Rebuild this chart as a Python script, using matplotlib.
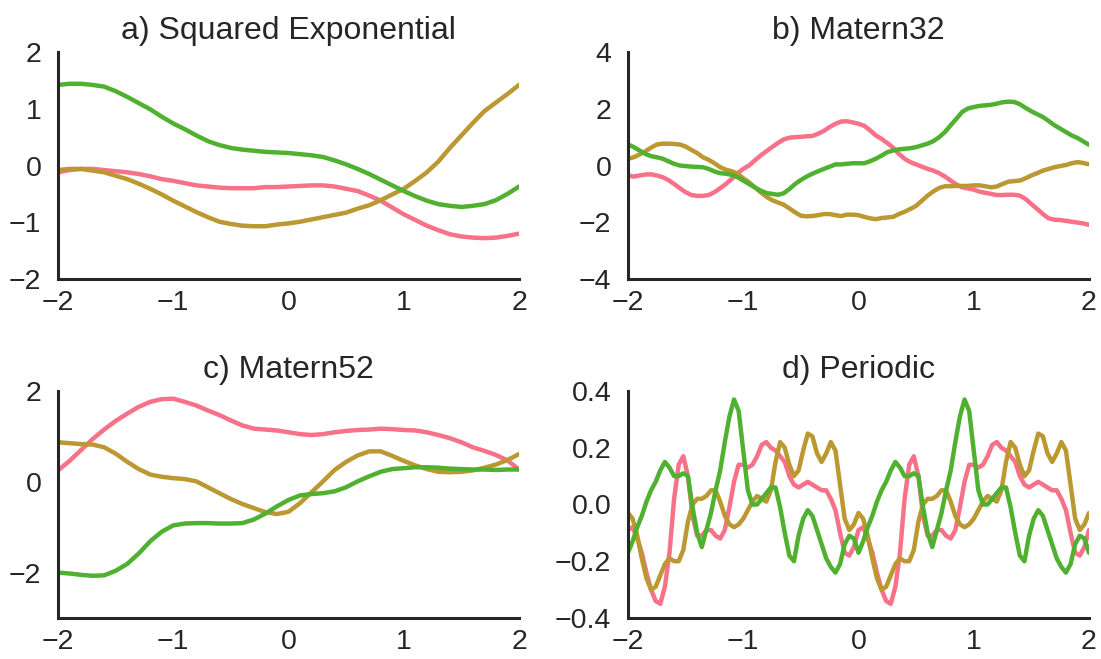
import numpy as np
import matplotlib
matplotlib.use('Agg')
import matplotlib.pyplot as plt
import seaborn as sns

sns.set_style('white')
plt.rcParams['font.family'] = ['Liberation Sans', 'DejaVu Sans']

# --- draws from each kernel (three samples per panel) ---

# a) squared exponential, sampled every 0.1
x_se = np.linspace(-2, 2, 41)
se_pink = [-0.12, -0.08, -0.06, -0.06, -0.08, -0.10, -0.12, -0.15, -0.19, -0.24,
           -0.27, -0.31, -0.35, -0.37, -0.39, -0.40, -0.40, -0.40, -0.38, -0.38,
           -0.37, -0.36, -0.35, -0.35, -0.37, -0.41, -0.45, -0.53, -0.62, -0.74,
           -0.86, -0.96, -1.06, -1.14, -1.21, -1.25, -1.27, -1.28, -1.27, -1.24,
           -1.20]
se_gold = [-0.08, -0.06, -0.06, -0.09, -0.12, -0.18, -0.24, -0.32, -0.41, -0.51,
           -0.62, -0.72, -0.82, -0.91, -0.99, -1.03, -1.06, -1.07, -1.07, -1.04,
           -1.02, -0.99, -0.95, -0.91, -0.87, -0.83, -0.76, -0.70, -0.61, -0.51,
           -0.41, -0.27, -0.12, 0.07, 0.31, 0.53, 0.75, 0.96, 1.11, 1.26,
           1.42]
se_green = [1.42, 1.44, 1.44, 1.42, 1.39, 1.31, 1.21, 1.10, 0.99, 0.86,
            0.74, 0.64, 0.53, 0.43, 0.36, 0.31, 0.28, 0.26, 0.24, 0.23,
            0.22, 0.20, 0.18, 0.15, 0.09, 0.02, -0.06, -0.15, -0.25, -0.35,
            -0.45, -0.54, -0.62, -0.68, -0.71, -0.73, -0.71, -0.68, -0.61, -0.50,
            -0.37]

# b) Matern 3/2, sampled every 0.05
x_m32 = np.linspace(-2, 2, 81)
m32_pink = [-0.35, -0.39, -0.35, -0.32, -0.31, -0.35, -0.41, -0.51, -0.65, -0.80,
            -0.94, -1.04, -1.07, -1.07, -1.04, -0.94, -0.80, -0.65, -0.47, -0.27,
            -0.12, 0.00, 0.18, 0.35, 0.50, 0.65, 0.79, 0.92, 0.98, 1.00,
            1.01, 1.03, 1.04, 1.12, 1.22, 1.36, 1.47, 1.55, 1.56, 1.52,
            1.47, 1.40, 1.24, 1.06, 0.94, 0.79, 0.63, 0.41, 0.24, 0.12,
            0.04, -0.04, -0.12, -0.18, -0.27, -0.39, -0.53, -0.67, -0.77, -0.81,
            -0.85, -0.92, -0.96, -1.00, -1.04, -1.04, -1.03, -1.03, -1.06, -1.18,
            -1.36, -1.53, -1.71, -1.86, -1.91, -1.92, -1.95, -1.98, -2.01, -2.04,
            -2.09]
m32_gold = [0.24, 0.29, 0.39, 0.50, 0.63, 0.74, 0.77, 0.77, 0.76, 0.74,
            0.67, 0.55, 0.44, 0.29, 0.20, 0.08, -0.06, -0.15, -0.20, -0.29,
            -0.45, -0.59, -0.77, -0.94, -1.10, -1.22, -1.30, -1.38, -1.51, -1.65,
            -1.77, -1.79, -1.78, -1.75, -1.71, -1.71, -1.75, -1.78, -1.73, -1.73,
            -1.75, -1.81, -1.86, -1.89, -1.85, -1.83, -1.81, -1.71, -1.63, -1.53,
            -1.42, -1.24, -1.06, -0.91, -0.79, -0.73, -0.73, -0.72, -0.72, -0.72,
            -0.70, -0.70, -0.73, -0.77, -0.74, -0.65, -0.57, -0.55, -0.53, -0.45,
            -0.35, -0.27, -0.18, -0.12, -0.06, -0.02, 0.02, 0.08, 0.12, 0.09,
            0.04]
m32_green = [0.74, 0.65, 0.53, 0.41, 0.33, 0.29, 0.24, 0.15, 0.06, 0.00,
             -0.02, -0.04, -0.05, -0.06, -0.12, -0.21, -0.27, -0.29, -0.33, -0.41,
             -0.53, -0.65, -0.77, -0.88, -0.97, -1.00, -1.03, -0.98, -0.83, -0.65,
             -0.51, -0.39, -0.29, -0.20, -0.12, -0.04, 0.04, 0.04, 0.06, 0.08,
             0.08, 0.08, 0.15, 0.24, 0.35, 0.47, 0.53, 0.57, 0.59, 0.61,
             0.65, 0.71, 0.77, 0.86, 1.00, 1.18, 1.42, 1.65, 1.89, 2.01,
             2.06, 2.10, 2.12, 2.14, 2.18, 2.23, 2.25, 2.24, 2.16, 2.03,
             1.91, 1.81, 1.71, 1.57, 1.42, 1.30, 1.18, 1.06, 0.97, 0.85,
             0.73]

# c) Matern 5/2, sampled every 0.1
x_m52 = np.linspace(-2, 2, 41)
m52_pink = [0.25, 0.46, 0.70, 0.94, 1.15, 1.34, 1.50, 1.65, 1.76, 1.82,
            1.83, 1.76, 1.68, 1.57, 1.47, 1.35, 1.24, 1.17, 1.15, 1.13,
            1.09, 1.05, 1.03, 1.05, 1.09, 1.12, 1.14, 1.15, 1.17, 1.16,
            1.14, 1.13, 1.09, 1.03, 0.96, 0.87, 0.76, 0.68, 0.59, 0.47,
            0.27]
m52_gold = [0.87, 0.85, 0.83, 0.82, 0.76, 0.62, 0.44, 0.28, 0.16, 0.11,
            0.08, 0.06, 0.01, -0.12, -0.25, -0.38, -0.49, -0.58, -0.67, -0.71,
            -0.66, -0.47, -0.23, 0.01, 0.26, 0.44, 0.58, 0.67, 0.67, 0.57,
            0.46, 0.36, 0.28, 0.22, 0.21, 0.22, 0.25, 0.31, 0.38, 0.48,
            0.61]
m52_green = [-2.00, -2.02, -2.05, -2.07, -2.06, -1.96, -1.81, -1.58, -1.31, -1.10,
             -0.96, -0.92, -0.91, -0.91, -0.92, -0.92, -0.91, -0.83, -0.70, -0.54,
             -0.40, -0.30, -0.27, -0.25, -0.21, -0.12, 0.01, 0.12, 0.22, 0.28,
             0.30, 0.32, 0.32, 0.31, 0.29, 0.28, 0.27, 0.27, 0.26, 0.27,
             0.27]

# d) periodic (period 2), sampled every 0.04
x_per = np.linspace(-2, 2, 101)
per_pink = [-0.09, -0.08, -0.12, -0.17, -0.24, -0.30, -0.34, -0.35, -0.29, -0.17,
            0.02, 0.14, 0.17, 0.10, -0.04, -0.11, -0.11, -0.09, -0.09, -0.11,
            -0.12, -0.09, -0.01, 0.08, 0.14, 0.14, 0.13, 0.14, 0.17, 0.21,
            0.22, 0.20, 0.19, 0.17, 0.15, 0.10, 0.07, 0.06, 0.07, 0.08,
            0.07, 0.06, 0.05, 0.05, 0.02, -0.02, -0.10, -0.17, -0.18, -0.15,
            -0.09, -0.08, -0.12, -0.17, -0.24, -0.30, -0.34, -0.35, -0.29, -0.17,
            0.02, 0.14, 0.17, 0.10, -0.04, -0.11, -0.11, -0.09, -0.09, -0.11,
            -0.12, -0.09, -0.01, 0.08, 0.14, 0.14, 0.13, 0.14, 0.17, 0.21,
            0.22, 0.20, 0.19, 0.17, 0.15, 0.10, 0.07, 0.06, 0.07, 0.08,
            0.07, 0.06, 0.05, 0.05, 0.02, -0.02, -0.10, -0.17, -0.18, -0.15,
            -0.09]
per_gold = [-0.03, -0.05, -0.11, -0.19, -0.26, -0.30, -0.29, -0.25, -0.21, -0.19,
            -0.20, -0.20, -0.16, -0.06, 0.00, 0.02, 0.02, 0.03, 0.05, 0.05,
            0.01, -0.04, -0.07, -0.08, -0.07, -0.05, -0.02, 0.01, 0.03, 0.02,
            0.01, 0.05, 0.15, 0.22, 0.20, 0.14, 0.10, 0.12, 0.19, 0.25,
            0.24, 0.18, 0.15, 0.18, 0.22, 0.19, 0.07, -0.05, -0.09, -0.07,
            -0.03, -0.05, -0.11, -0.19, -0.26, -0.30, -0.29, -0.25, -0.21, -0.19,
            -0.20, -0.20, -0.16, -0.06, 0.00, 0.02, 0.02, 0.03, 0.05, 0.05,
            0.01, -0.04, -0.07, -0.08, -0.07, -0.05, -0.02, 0.01, 0.03, 0.02,
            0.01, 0.05, 0.15, 0.22, 0.20, 0.14, 0.10, 0.12, 0.19, 0.25,
            0.24, 0.18, 0.15, 0.18, 0.22, 0.19, 0.07, -0.05, -0.09, -0.07,
            -0.03]
per_green = [-0.17, -0.13, -0.08, -0.04, 0.01, 0.05, 0.08, 0.12, 0.15, 0.13,
             0.10, 0.10, 0.11, 0.10, -0.01, -0.10, -0.15, -0.09, -0.03, 0.05,
             0.12, 0.22, 0.31, 0.37, 0.33, 0.19, 0.05, 0.00, 0.00, 0.02,
             0.04, 0.06, 0.06, -0.01, -0.10, -0.18, -0.20, -0.11, -0.05, -0.02,
             -0.04, -0.09, -0.14, -0.19, -0.22, -0.24, -0.21, -0.14, -0.11, -0.12,
             -0.17, -0.13, -0.08, -0.04, 0.01, 0.05, 0.08, 0.12, 0.15, 0.13,
             0.10, 0.10, 0.11, 0.10, -0.01, -0.10, -0.15, -0.09, -0.03, 0.05,
             0.12, 0.22, 0.31, 0.37, 0.33, 0.19, 0.05, 0.00, 0.00, 0.02,
             0.04, 0.06, 0.06, -0.01, -0.10, -0.18, -0.20, -0.11, -0.05, -0.02,
             -0.04, -0.09, -0.14, -0.19, -0.22, -0.24, -0.21, -0.14, -0.11, -0.12,
             -0.17]

panels = [
    ('a) Squared Exponential', x_se, [se_pink, se_gold, se_green], (-2, 2), [-2, -1, 0, 1, 2]),
    ('b) Matern32', x_m32, [m32_pink, m32_gold, m32_green], (-4, 4), [-4, -2, 0, 2, 4]),
    ('c) Matern52', x_m52, [m52_pink, m52_gold, m52_green], (-3, 2), [-2, 0, 2]),
    ('d) Periodic', x_per, [per_pink, per_gold, per_green], (-0.4, 0.4), [-0.4, -0.2, 0.0, 0.2, 0.4]),
]

colors = sns.color_palette('husl', 6)[:3]
ink = '#262626'

fig, axes = plt.subplots(2, 2, figsize=(11.01, 6.59), dpi=100)
fig.subplots_adjust(left=0.0527, right=0.9891, top=0.9211, bottom=0.0622,
                    wspace=0.2364, hspace=0.493)

for ax, (title, x, samples, ylim, yticks) in zip(axes.flat, panels):
    for y, c in zip(samples, colors):
        ax.plot(x, y, color=c, lw=3.2)
    ax.set_xlim(-2, 2)
    ax.set_ylim(*ylim)
    ax.set_xticks([-2, -1, 0, 1, 2])
    ax.set_yticks(yticks)
    ax.set_title(title, fontsize=23, color=ink, pad=9)
    ax.tick_params(axis='both', length=0, labelsize=20.5, labelcolor=ink)
    ax.tick_params(axis='x', pad=8)
    ax.tick_params(axis='y', pad=12)
    sns.despine(ax=ax)
    for side in ('left', 'bottom'):
        ax.spines[side].set_linewidth(2.2)
        ax.spines[side].set_color(ink)

fig.savefig('out.png', dpi=100)
